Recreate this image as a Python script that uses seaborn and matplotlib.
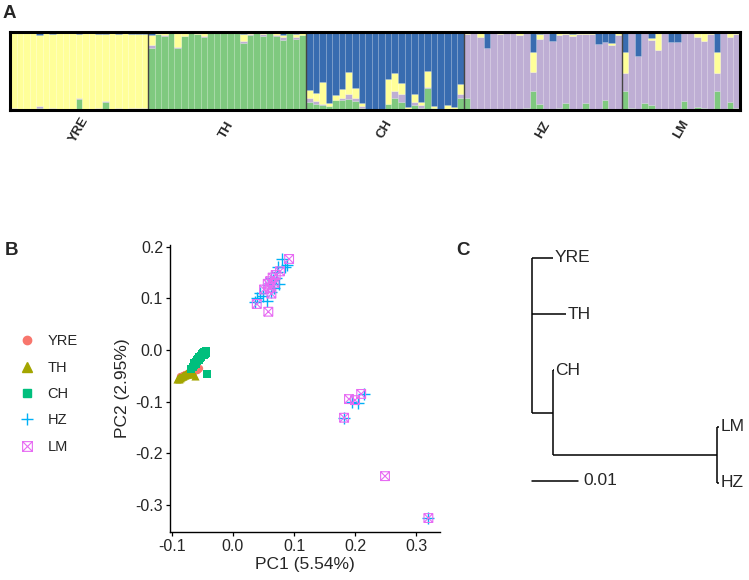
import numpy as np
import matplotlib
matplotlib.use("Agg")
import matplotlib.pyplot as plt
from matplotlib.path import Path
from matplotlib.lines import Line2D
import seaborn as sns

# --- Data ---
POPS = ["YRE", "TH", "CH", "HZ", "LM"]

# admixture components, stacked bottom -> top: green, lavender, yellow, blue
K_COLORS = ["#7FC97F", "#BEAED4", "#FFFF99", "#386CB0"]
# None = the population's main component (the remainder)
YRE_Q = [(.01, .02, None, .01), (0, 0, None, .01), (0, 0, None, .01), (0, 0, None, .01),
         (.03, .02, None, .035), (0, 0, None, .01), (0, .02, None, .03), (0, 0, None, .005),
         (0, 0, None, .01), (0, 0, None, .005), (.145, .015, None, .03), (0, 0, None, .01),
         (0, 0, None, .01), (0, .02, None, .03), (.10, .015, None, .03), (0, 0, None, .01),
         (0, .02, None, .03), (0, 0, None, .01), (0, .02, None, .025), (0, .02, None, .025),
         (0, .02, None, .025)]
TH_Q = [(None, .035, .13, .035), (None, .005, .02, .005), (None, .015, .03, .01), (None, 0, .005, .005),
        (None, .01, .18, .01), (None, .01, .03, .015), (None, 0, .005, .005), (None, 0, .015, .005),
        (None, .005, .05, .005), (None, 0, .01, .005), (None, 0, .005, .003), (None, 0, .005, .003),
        (None, 0, .005, .003), (None, 0, .005, .003), (None, .02, .095, .025), (None, .01, .02, .01),
        (None, 0, .01, .005), (None, .015, .015, .015), (None, 0, .01, .005), (None, .01, .025, .01),
        (None, .03, .035, .035), (None, 0, .01, .005), (None, .025, .04, .025), (None, .005, .025, .01)]
CH_Q = [(.10, .05, .11, None), (.08, .04, .10, None), (.06, .02, .28, None), (.05, 0, .04, None),
        (.13, 0, .06, None), (.13, .03, .11, None), (.14, .07, .28, None), (.12, .04, .12, None),
        (.03, .02, .04, None), (0, 0, 0, None), (0, 0, 0, None), (0, 0, 0, None),
        (.08, 0, .32, None), (.15, .10, .22, None), (.10, .10, .15, None), (0, .01, .03, None),
        (.06, .04, .11, None), (.03, .03, .04, None), (.28, .01, .21, None), (.03, 0, .025, None),
        (0, 0, 0, None), (.01, 0, .06, None), (0, .01, .03, None), (.16, .04, .13, None)]
HZ_Q = [(.16, None, .03, 0), (.01, None, 0, .005), (.01, None, .07, 0), (0, None, 0, .20),
        (.01, None, .015, 0), (0, None, .015, .005), (.005, None, .01, 0), (0, None, .01, .005),
        (0, None, .035, 0), (.03, None, 0, 0), (.24, None, .26, .25), (.08, None, .06, .03),
        (0, None, .005, .005), (0, None, 0, .12), (.02, None, .035, 0), (.09, None, .025, .005),
        (0, None, .02, .03), (.005, None, .03, 0), (.09, None, .02, 0), (0, None, .02, .005),
        (.01, None, 0, .16), (.13, None, 0, .13), (0, None, .025, .14), (.01, None, .03, .005)]
LM_Q = [(.24, None, .26, .26), (.03, None, 0, 0), (0, None, 0, .31), (.085, None, 0, .01),
        (.06, None, .02, .08), (0, None, .23, 0), (.005, None, .005, 0), (0, None, 0, .13),
        (.01, None, 0, .13), (.11, None, 0, 0), (0, None, 0, .005), (.04, None, .07, 0),
        (.02, None, .12, 0), (0, None, .02, 0), (.24, None, .26, .26), (.01, None, 0, 0),
        (.10, None, .06, 0), (.03, None, .02, 0)]

# PCA coordinates
YRE_PC1 = [-0.086, -0.084, -0.082, -0.081, -0.079, -0.078, -0.077, -0.075, -0.074, -0.073, -0.072,
           -0.070, -0.069, -0.068, -0.066, -0.065, -0.063, -0.061, -0.059, -0.057, -0.055]
YRE_PC2 = [-0.051, -0.050, -0.049, -0.048, -0.049, -0.047, -0.046, -0.046, -0.045, -0.044, -0.045,
           -0.043, -0.042, -0.043, -0.041, -0.040, -0.041, -0.039, -0.038, -0.037, -0.035]
TH_PC1 = [-0.092, -0.090, -0.089, -0.088, -0.087, -0.086, -0.085, -0.084, -0.083, -0.082, -0.081, -0.080,
          -0.079, -0.078, -0.077, -0.076, -0.075, -0.074, -0.072, -0.071, -0.069, -0.067, -0.065, -0.062]
TH_PC2 = [-0.057, -0.055, -0.056, -0.053, -0.054, -0.052, -0.053, -0.050, -0.051, -0.049, -0.050, -0.048,
          -0.049, -0.046, -0.047, -0.045, -0.046, -0.044, -0.045, -0.043, -0.046, -0.044, -0.047, -0.050]
CH_PC1 = [-0.068, -0.066, -0.064, -0.063, -0.061, -0.060, -0.059, -0.058, -0.057, -0.056, -0.055, -0.054,
          -0.053, -0.052, -0.051, -0.050, -0.049, -0.048, -0.047, -0.046, -0.045, -0.044, -0.044, -0.043]
CH_PC2 = [-0.036, -0.032, -0.030, -0.026, -0.024, -0.027, -0.020, -0.022, -0.017, -0.019, -0.014, -0.016,
          -0.011, -0.013, -0.008, -0.010, -0.006, -0.009, -0.004, -0.007, -0.003, -0.005, -0.002, -0.047]
HZ_PC1 = [0.080, 0.088, 0.074, 0.070, 0.076, 0.063, 0.055, 0.036, 0.039, 0.060, 0.065, 0.058,
          0.068, 0.062, 0.072, 0.085, 0.050, 0.045, 0.066, 0.182, 0.195, 0.205, 0.215, 0.320]
HZ_PC2 = [0.176, 0.165, 0.160, 0.139, 0.128, 0.113, 0.094, 0.093, 0.100, 0.130, 0.135, 0.125,
          0.120, 0.140, 0.150, 0.160, 0.105, 0.110, 0.128, -0.131, -0.100, -0.102, -0.085, -0.325]
LM_PC1 = [0.092, 0.077, 0.061, 0.051, 0.063, 0.039, 0.058, 0.065, 0.057, 0.068, 0.060, 0.070,
          0.182, 0.190, 0.200, 0.210, 0.249, 0.320]
LM_PC2 = [0.176, 0.152, 0.133, 0.117, 0.109, 0.089, 0.074, 0.140, 0.128, 0.130, 0.120, 0.145,
          -0.131, -0.095, -0.097, -0.085, -0.244, -0.325]

PCA_COLORS = ["#F8766D", "#A3A500", "#00BF7D", "#00B0F6", "#E76BF3"]

# tree: node, parent, branch length
TREE_NODE = ["root", "YRE", "TH", "in1", "CH", "in2", "LM", "HZ"]
TREE_PARENT = [None, "root", "root", "root", "in1", "in1", "in2", "in2"]
TREE_BRANCH = [0.0, 0.0046, 0.0074, 0.0046, 0.0001, 0.0357, 0.0004, 0.0004]
TIP_ORDER = ["YRE", "TH", "CH", "LM", "HZ"]

# --- Style ---
sns.set_style("white")
plt.rcParams["font.family"] = ["Liberation Sans", "DejaVu Sans"]

W, H = 749, 580
fig = plt.figure(figsize=(W / 100, H / 100), dpi=100)


def px_axes(x0, y0, x1, y1):
    return fig.add_axes([x0 / W, 1 - y1 / H, (x1 - x0) / W, (y1 - y0) / H])


def complete(rows):
    out = []
    for r in rows:
        rest = 1 - sum(v for v in r if v is not None)
        out.append([rest if v is None else v for v in r])
    return np.array(out)


# --- Panel A: admixture ---
ax_a = px_axes(10, 32, 740, 110)
Q = np.vstack([complete(q) for q in [YRE_Q, TH_Q, CH_Q, HZ_Q, LM_Q]])
sizes = [len(YRE_Q), len(TH_Q), len(CH_Q), len(HZ_Q), len(LM_Q)]
xs = np.arange(len(Q))
bottom = np.zeros(len(Q))
for k, col in enumerate(K_COLORS):
    ax_a.bar(xs, Q[:, k], bottom=bottom, width=1.0, color=col,
             edgecolor=(1, 1, 1, 0.15), linewidth=0.4)
    bottom += Q[:, k]
ax_a.set_xlim(-0.5, len(Q) - 0.5)
ax_a.set_ylim(0, 1)
ax_a.set_xticks([])
ax_a.set_yticks([])
for s in ax_a.spines.values():
    s.set_linewidth(2.2)
    s.set_color("black")
edges = np.cumsum(sizes)
starts = np.concatenate([[0], edges[:-1]])
for e in edges[:-1]:
    ax_a.axvline(e - 0.5, color="#444444", linewidth=1.0)
for pop, s0, e in zip(POPS, starts, edges):
    ax_a.text((s0 + e - 1) / 2, -0.25, pop, transform=ax_a.get_xaxis_transform(),
              rotation=60, ha="center", va="center", fontsize=9.5, fontweight="bold")

# --- Panel B: PCA ---
ax_b = px_axes(170, 245, 440, 532)
box_x = Path([(-1, -1), (1, -1), (1, 1), (-1, 1), (-1, -1), (1, 1), (-1, 1), (1, -1)],
             [Path.MOVETO, Path.LINETO, Path.LINETO, Path.LINETO, Path.CLOSEPOLY,
              Path.LINETO, Path.MOVETO, Path.LINETO])
sns.scatterplot(x=YRE_PC1, y=YRE_PC2, color=PCA_COLORS[0], marker="o", s=28,
                linewidth=0, ax=ax_b)
sns.scatterplot(x=TH_PC1, y=TH_PC2, color=PCA_COLORS[1], marker="^", s=34,
                linewidth=0, ax=ax_b)
sns.scatterplot(x=CH_PC1, y=CH_PC2, color=PCA_COLORS[2], marker="s", s=26,
                linewidth=0, ax=ax_b)
sns.scatterplot(x=HZ_PC1, y=HZ_PC2, color=PCA_COLORS[3], marker="+", s=80,
                linewidth=1.0, ax=ax_b)
sns.scatterplot(x=LM_PC1, y=LM_PC2, color=PCA_COLORS[4], marker=box_x, s=40,
                facecolor="none", edgecolor=PCA_COLORS[4], linewidth=0.8, ax=ax_b)
ax_b.set_xlim(-0.103, 0.339)
ax_b.set_ylim(-0.352, 0.203)
ax_b.set_xticks([-0.1, 0.0, 0.1, 0.2, 0.3])
ax_b.set_yticks([-0.3, -0.2, -0.1, 0.0, 0.1, 0.2])
ax_b.set_xticklabels(["-0.1", "0.0", "0.1", "0.2", "0.3"])
ax_b.set_yticklabels(["-0.3", "-0.2", "-0.1", "0.0", "0.1", "0.2"])
ax_b.set_xlabel("PC1 (5.54%)", fontsize=12.5, labelpad=2)
ax_b.set_ylabel("PC2 (2.95%)", fontsize=12.5, labelpad=4)
ax_b.tick_params(axis="both", direction="out", length=3, width=0.9, color="black",
                 labelsize=11.5, pad=2, bottom=True, left=True)
sns.despine(ax=ax_b)
for s in ["left", "bottom"]:
    ax_b.spines[s].set_color("black")
    ax_b.spines[s].set_linewidth(1.0)

handles = [
    Line2D([], [], linestyle="", marker="o", color=PCA_COLORS[0], markersize=6),
    Line2D([], [], linestyle="", marker="^", color=PCA_COLORS[1], markersize=6.5),
    Line2D([], [], linestyle="", marker="s", color=PCA_COLORS[2], markersize=5.5),
    Line2D([], [], linestyle="", marker="+", color=PCA_COLORS[3], markersize=9, markeredgewidth=1.0),
    Line2D([], [], linestyle="", marker=box_x, markerfacecolor="none",
           markeredgecolor=PCA_COLORS[4], markersize=7, markeredgewidth=0.8),
]
fig.legend(handles, POPS, loc="center left", bbox_to_anchor=(20 / W, 1 - 394 / H),
           frameon=False, fontsize=10.5, handlelength=1.0, handletextpad=0.9,
           labelspacing=0.85, borderpad=0, borderaxespad=0)

# --- Panel C: tree ---
ax_c = px_axes(500, 230, 749, 510)
xpos, ypos = {}, {}
for node, parent, bl in zip(TREE_NODE, TREE_PARENT, TREE_BRANCH):
    xpos[node] = bl if parent is None else xpos[parent] + bl
for i, tip in enumerate(TIP_ORDER):
    ypos[tip] = i
children = {n: [c for c, p in zip(TREE_NODE, TREE_PARENT) if p == n] for n in TREE_NODE}
for node in reversed(TREE_NODE):
    kids = children[node]
    if kids:
        ys = [ypos[c] for c in kids]
        ypos[node] = (min(ys) + max(ys)) / 2
for node, parent in zip(TREE_NODE, TREE_PARENT):
    kids = children[node]
    if kids:
        ys = [ypos[c] for c in kids]
        ax_c.plot([xpos[node]] * 2, [min(ys), max(ys)], color="black", lw=1.1,
                  solid_capstyle="butt")
    if parent is not None:
        ax_c.plot([xpos[parent], xpos[node]], [ypos[node]] * 2, color="black", lw=1.1,
                  solid_capstyle="butt")
for tip in TIP_ORDER:
    ax_c.text(xpos[tip] + 0.0003, ypos[tip], tip, ha="left", va="center", fontsize=12.5)
ax_c.plot([0, 0.01], [3.96, 3.96], color="black", lw=1.1)
ax_c.text(0.0111, 3.96, "0.01", ha="left", va="center", fontsize=12.5)
ax_c.set_xlim((500 - 532) / 4600, (749 - 532) / 4600)
ax_c.set_ylim((510 - 258) / 56.25, (230 - 258) / 56.25)
ax_c.axis("off")

# --- Panel letters ---
for letter, x, y in [("A", 3, 5), ("B", 5, 242), ("C", 456, 242)]:
    fig.text(x / W, 1 - y / H, letter, fontsize=13.5, fontweight="bold", ha="left", va="top")

fig.savefig("out.png", dpi=100)
